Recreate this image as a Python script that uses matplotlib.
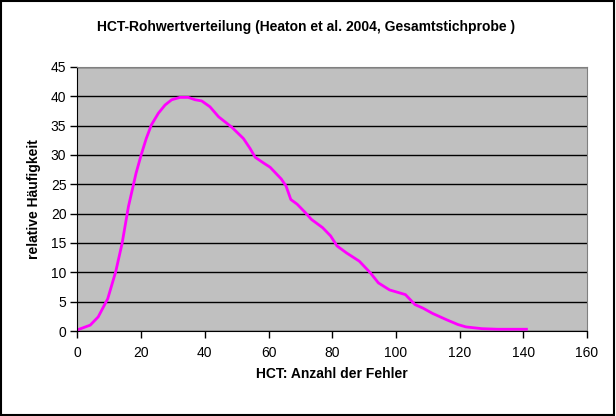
import matplotlib.pyplot as plt
from matplotlib.patches import Rectangle

plt.rcParams['font.family'] = ['Liberation Sans', 'DejaVu Sans']

# HCT raw scores (number of errors) and relative frequency
fehler = [0, 4, 6.5, 9.5, 12, 14, 16, 18.4, 20, 21.6, 23.2, 25.4, 27.5, 29.6,
          32.2, 34.8, 36.9, 39, 41.6, 44.3, 46.4, 48.5, 52.1, 54.2, 55.8, 58.5,
          60.5, 64, 65.5, 67, 69, 71.5, 73.5, 77, 79.5, 81.5, 84.5, 88.5, 92,
          94.5, 98, 103, 106, 108.5, 111.5, 116, 119.5, 122, 127, 132, 141]
haeufigkeit = [0.2, 1.0, 2.4, 5.5, 10.1, 14.9, 21.2, 26.9, 30.0, 32.8, 35.1,
               37.1, 38.5, 39.4, 39.8, 39.8, 39.4, 39.2, 38.2, 36.5, 35.6, 34.7,
               32.8, 31.1, 29.6, 28.6, 27.9, 25.9, 24.7, 22.4, 21.6, 20.2, 19.0,
               17.6, 16.2, 14.5, 13.3, 11.9, 9.9, 8.2, 7.0, 6.2, 4.5, 3.9, 3.0,
               1.9, 1.1, 0.7, 0.4, 0.3, 0.3]

xticks = list(range(0, 161, 20))
yticks = list(range(0, 46, 5))

fig = plt.figure(figsize=(6.16, 4.16), dpi=100)
ax = fig.add_axes([0.1258, 0.2043, 0.827, 0.635])
ax.set_facecolor('#c0c0c0')

# black outer frame of the chart
fig.patches.append(Rectangle((0.002, 0.003), 0.994, 0.994, transform=fig.transFigure,
                             fill=False, edgecolor='black', linewidth=1.5))

ax.plot(fehler, haeufigkeit, color='#ff00ff', linewidth=2)

ax.set_xlim(0, 160)
ax.set_ylim(0, 45)
ax.set_xticks(xticks)
ax.set_yticks(yticks)
ax.yaxis.grid(True, color='black', linewidth=1)
ax.set_axisbelow(True)

for side in ['top', 'right']:
    ax.spines[side].set_color('#808080')
for side in ['left', 'bottom']:
    ax.spines[side].set_color('black')
ax.tick_params(direction='out', length=5, width=1, labelsize=10)
ax.tick_params(axis='x', pad=6)
ax.tick_params(axis='y', pad=3)

ax.set_xlabel('HCT: Anzahl der Fehler', fontsize=10, fontweight='bold', labelpad=5)
ax.set_ylabel('relative Häufigkeit', fontsize=10, fontweight='bold', labelpad=7)
fig.text(0.497, 0.935, 'HCT-Rohwertverteilung (Heaton et al. 2004, Gesamtstichprobe )',
         ha='center', va='center', fontsize=10, fontweight='bold')

fig.savefig('out.png', dpi=100)
